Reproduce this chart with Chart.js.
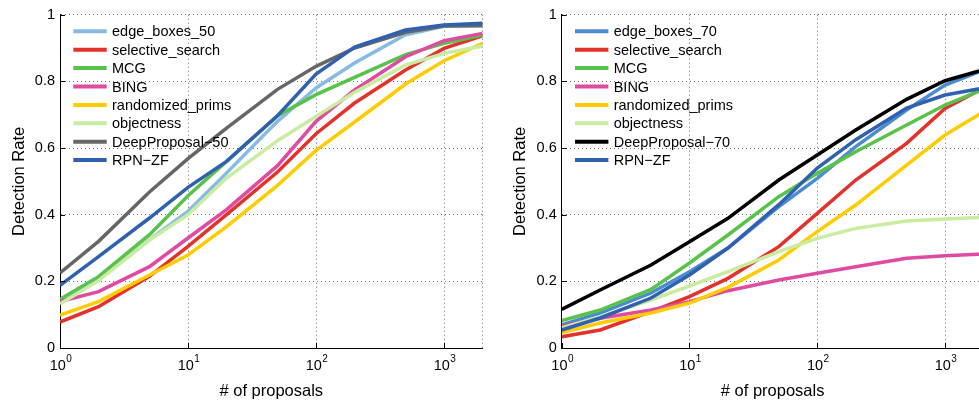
<!DOCTYPE html>
<html>
<head>
<meta charset="utf-8">
<script src="https://cdn.jsdelivr.net/npm/chart.js@4.4.1/dist/chart.umd.min.js"></script>
<style>
  html, body { margin: 0; padding: 0; background: #fff; overflow: hidden; }
  #wrap { position: relative; width: 979px; height: 405px; overflow: hidden; }
  #chartLeft { position: absolute; left: 0; top: 0; }
  #chartRight { position: absolute; left: 490px; top: 0; }
</style>
</head>
<body>
<div id="wrap">
  <canvas id="chartLeft" width="490" height="405"></canvas>
  <canvas id="chartRight" width="500" height="405"></canvas>
</div>
<script>
const proposals = [1, 2, 5, 10, 20, 50, 100, 200, 500, 1000, 2000];

const xTickValues = [1, 10, 100, 1000, 2000];
const xTickBase = '10';
const xTickExponents = ['0', '1', '2', '3'];
const yTickValues = [0, 0.2, 0.4, 0.6, 0.8, 1];
const yTickLabels = ['0', '0.2', '0.4', '0.6', '0.8', '1'];

// IoU 0.5 (left)
const namesLeft = ['edge_boxes_50', 'selective_search', 'MCG', 'BING', 'randomized_prims', 'objectness', 'DeepProposal\u221250', 'RPN\u2212ZF'];
const edgeBoxes50 = [0.135, 0.205, 0.325, 0.41, 0.525, 0.68, 0.78, 0.855, 0.94, 0.965, 0.968];
const selSearch50 = [0.078, 0.124, 0.215, 0.305, 0.40, 0.528, 0.643, 0.735, 0.834, 0.899, 0.937];
const mcg50 = [0.146, 0.214, 0.34, 0.457, 0.56, 0.697, 0.76, 0.812, 0.88, 0.914, 0.939];
const bing50 = [0.139, 0.169, 0.244, 0.33, 0.415, 0.547, 0.68, 0.774, 0.874, 0.922, 0.944];
const randPrims50 = [0.099, 0.139, 0.219, 0.279, 0.364, 0.488, 0.593, 0.678, 0.792, 0.862, 0.914];
const objectness50 = [0.132, 0.202, 0.324, 0.40, 0.51, 0.622, 0.695, 0.767, 0.849, 0.884, 0.906];
const deepProp50 = [0.225, 0.32, 0.468, 0.568, 0.66, 0.776, 0.845, 0.90, 0.947, 0.966, 0.967];
const rpnZf50 = [0.188, 0.274, 0.39, 0.482, 0.56, 0.697, 0.822, 0.903, 0.954, 0.969, 0.974];

// IoU 0.7 (right)
const namesRight = ['edge_boxes_70', 'selective_search', 'MCG', 'BING', 'randomized_prims', 'objectness', 'DeepProposal\u221270', 'RPN\u2212ZF'];
const edgeBoxes70 = [0.069, 0.105, 0.165, 0.229, 0.30, 0.424, 0.509, 0.604, 0.714, 0.789, 0.834];
const selSearch70 = [0.034, 0.054, 0.109, 0.154, 0.209, 0.304, 0.404, 0.504, 0.614, 0.719, 0.78];
const mcg70 = [0.082, 0.114, 0.176, 0.255, 0.339, 0.454, 0.524, 0.589, 0.669, 0.729, 0.776];
const bing70 = [0.065, 0.089, 0.114, 0.139, 0.172, 0.204, 0.224, 0.244, 0.269, 0.277, 0.282];
const randPrims70 = [0.046, 0.075, 0.105, 0.135, 0.182, 0.264, 0.349, 0.429, 0.549, 0.639, 0.709];
const objectness70 = [0.06, 0.094, 0.144, 0.186, 0.229, 0.289, 0.329, 0.359, 0.381, 0.387, 0.392];
const deepProp70 = [0.116, 0.174, 0.249, 0.319, 0.389, 0.504, 0.579, 0.654, 0.746, 0.802, 0.835];
const rpnZf70 = [0.054, 0.09, 0.15, 0.219, 0.30, 0.43, 0.54, 0.625, 0.72, 0.759, 0.78];

const colorsLeft = ['#88bbe4', '#e3322b', '#59c24b', '#df4ba0', '#ffcc00', '#c8eca0', '#666666', '#3060b0'];
const colorsRight = ['#4a8ccf', '#e3322b', '#59c24b', '#df4ba0', '#ffcc00', '#c8eca0', '#000000', '#3060b0'];

const fontFamily = "'Liberation Sans', Arial, 'DejaVu Sans', sans-serif";

function makeDatasets(names, series, colors) {
  return series.map((vals, i) => ({
    label: names[i],
    data: vals.map((v, j) => ({ x: proposals[j], y: v })),
    borderColor: colors[i],
    backgroundColor: colors[i],
    borderWidth: 3.5,
    pointRadius: 0,
    tension: 0,
    fill: false,
    order: series.length - i, // later series drawn on top, like matlab
  }));
}

// legend drawn inside the plot, top-left, matlab style
const insideLegend = {
  id: 'insideLegend',
  afterDatasetsDraw(chart) {
    const { ctx, chartArea } = chart;
    ctx.save();
    ctx.font = '14.5px ' + fontFamily;
    ctx.textBaseline = 'middle';
    chart.data.datasets.forEach((ds, i) => {
      const y = chartArea.top + 16.6 + i * 18.4;
      ctx.strokeStyle = ds.borderColor;
      ctx.lineWidth = 4;
      ctx.beginPath();
      ctx.moveTo(chartArea.left + 13.3, y);
      ctx.lineTo(chartArea.left + 46.7, y);
      ctx.stroke();
      ctx.fillStyle = '#000';
      ctx.fillText(ds.label, chartArea.left + 52, y + 1);
    });
    ctx.restore();
  }
};

// inward tick marks + 10^n labels with a real superscript
const logAxisDecor = {
  id: 'logAxisDecor',
  afterDraw(chart) {
    const { ctx, chartArea, scales } = chart;
    ctx.save();
    ctx.strokeStyle = '#000';
    ctx.lineWidth = 1;
    ctx.beginPath();
    xTickExponents.forEach((e, i) => {
      const x = Math.round(scales.x.getPixelForValue(xTickValues[i])) + 0.5;
      ctx.moveTo(x, chartArea.bottom);
      ctx.lineTo(x, chartArea.bottom - 5);
    });
    yTickValues.forEach(v => {
      const y = Math.round(scales.y.getPixelForValue(v)) + 0.5;
      ctx.moveTo(chartArea.left, y);
      ctx.lineTo(chartArea.left + 5, y);
    });
    ctx.stroke();

    ctx.fillStyle = '#000';
    ctx.textBaseline = 'alphabetic';
    ctx.textAlign = 'left';
    const baseFont = '14.5px ' + fontFamily;
    const supFont = '10px ' + fontFamily;
    xTickExponents.forEach((e, i) => {
      const x = scales.x.getPixelForValue(xTickValues[i]);
      ctx.font = baseFont;
      const wBase = ctx.measureText(xTickBase).width;
      ctx.font = supFont;
      const wSup = ctx.measureText(e).width;
      const x0 = x - (wBase + wSup) / 2 + 0.5;
      const yb = chartArea.bottom + 22;
      ctx.font = baseFont;
      ctx.fillText(xTickBase, x0, yb);
      ctx.font = supFont;
      ctx.fillText(e, x0 + wBase + 0.5, yb - 8);
    });
    ctx.restore();
  }
};

function makeOptions(yAxisWidth, yTitlePad, padRight) {
  return {
    responsive: false,
    animation: false,
    layout: { padding: { left: 0, right: padRight, top: 14.7, bottom: 0 } },
    plugins: {
      legend: { display: false },
      tooltip: { enabled: false },
    },
    scales: {
      x: {
        type: 'logarithmic',
        min: 1,
        max: 2000,
        afterBuildTicks: (scale) => {
          scale.ticks = xTickValues.map(v => ({ value: v, major: true }));
        },
        afterFit: (scale) => { scale.height = 57; },
        ticks: {
          autoSkip: false,
          maxRotation: 0,
          callback: () => '', // labels drawn by logAxisDecor
        },
        grid: { color: '#6a6a6a', lineWidth: 1, drawTicks: false },
        border: { display: true, color: '#000', width: 1, dash: [1, 3] },
        title: {
          display: true,
          text: '# of proposals',
          color: '#000',
          font: { family: fontFamily, size: 16.5 },
          padding: { top: 0, bottom: 3.4 },
        },
      },
      y: {
        min: 0,
        max: 1,
        afterBuildTicks: (scale) => {
          scale.ticks = yTickValues.map(v => ({ value: v }));
        },
        afterFit: (scale) => { scale.width = yAxisWidth; },
        ticks: {
          padding: 5,
          color: '#000',
          font: { family: fontFamily, size: 14.5 },
          callback: (value) => yTickLabels[yTickValues.indexOf(value)],
        },
        grid: { color: '#6a6a6a', lineWidth: 1, drawTicks: false },
        border: { display: true, color: '#000', width: 1, dash: [1, 3] },
        title: {
          display: true,
          text: 'Detection Rate',
          color: '#000',
          font: { family: fontFamily, size: 16.5 },
          padding: { top: yTitlePad, bottom: 0 },
        },
      },
    },
  };
}

new Chart(document.getElementById('chartLeft'), {
  type: 'line',
  data: {
    datasets: makeDatasets(namesLeft,
      [edgeBoxes50, selSearch50, mcg50, bing50, randPrims50, objectness50, deepProp50, rpnZf50],
      colorsLeft),
  },
  options: makeOptions(60, 10, 7.4),
  plugins: [insideLegend, logAxisDecor],
});

new Chart(document.getElementById('chartRight'), {
  type: 'line',
  data: {
    datasets: makeDatasets(namesRight,
      [edgeBoxes70, selSearch70, mcg70, bing70, randPrims70, objectness70, deepProp70, rpnZf70],
      colorsRight),
  },
  options: makeOptions(71.7, 21, 6.5),
  plugins: [insideLegend, logAxisDecor],
});
</script>
</body>
</html>
